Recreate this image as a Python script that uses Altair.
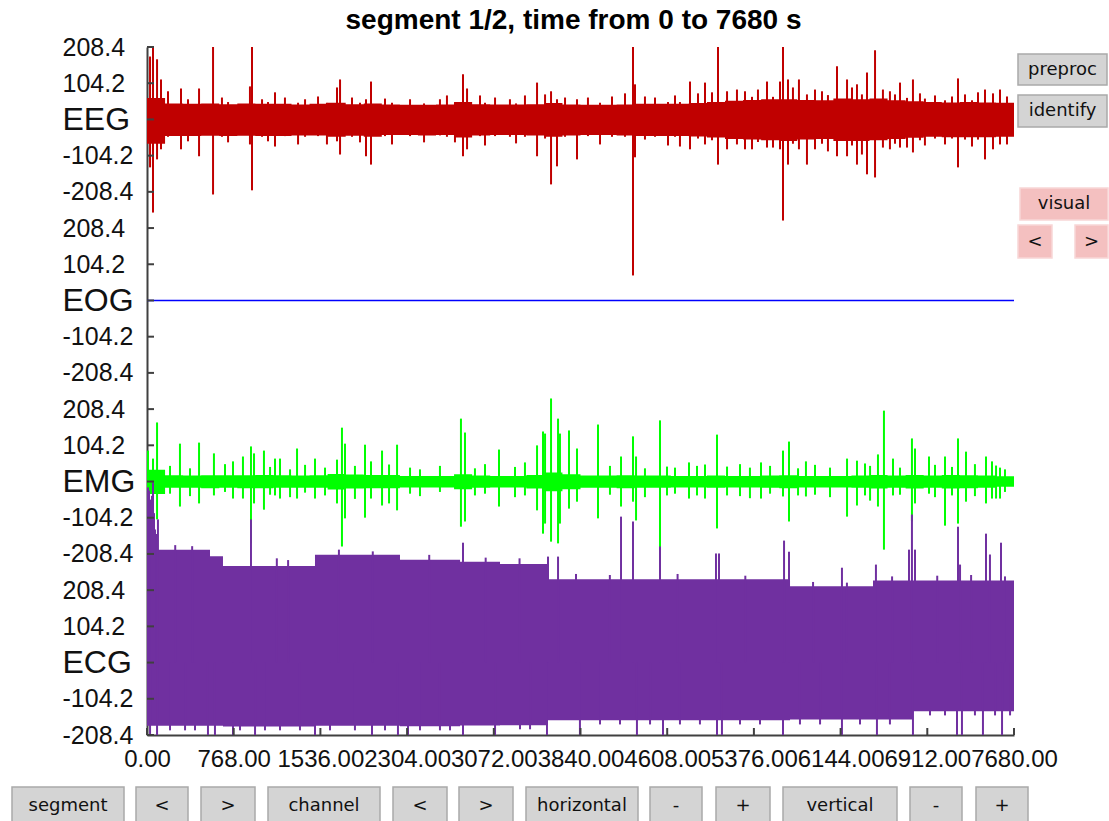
import json
import altair as alt
import pandas as pd

# ---------------------------------------------------------------- layout
PAGE_W, PAGE_H = 1109, 821
PAD = {"left": 147, "top": 47, "right": 95, "bottom": 86}
PLOT_W = PAGE_W - PAD["left"] - PAD["right"]
PLOT_H = PAGE_H - PAD["top"] - PAD["bottom"]

# ---------------------------------------------------------------- time axis
TIME_END = 7680
BIN_SECONDS = 160
time_ticks = [0, 768, 1536, 2304, 3072, 3840, 4608, 5376, 6144, 6912, 7680]

# ---------------------------------------------------------------- channels (bottom to top)
channel_names = ["ECG", "EMG", "EOG", "EEG"]
channel_spacing = 521.0
amp_ticks = [-208.4, -104.2, 0.0, 104.2, 208.4]
channel_colors = {"EEG": "#C00000", "EOG": "#0000FF", "EMG": "#00FF00", "ECG": "#7030A0"}

# EEG: envelope per 160 s bin (uV) and isolated transients (t, top, bottom)
eeg_upper = [62, 46, 45, 46, 44, 46, 45, 45, 43, 45, 48, 44, 46, 43, 42, 42,
             43, 50, 44, 43, 43, 44, 47, 43, 42, 42, 43, 45, 45, 45, 47, 50,
             54, 56, 58, 58, 56, 55, 60, 58, 60, 55, 52, 50, 49, 50, 49, 48]
eeg_lower = [-70, -48, -48, -47, -48, -47, -48, -48, -46, -46, -50, -47, -50, -45, -45, -46,
             -45, -52, -46, -45, -45, -46, -50, -46, -45, -45, -46, -48, -48, -48, -49, -52,
             -56, -58, -60, -62, -58, -56, -62, -62, -60, -56, -53, -50, -51, -51, -51, -50]
eeg_spikes = [
    (27, 181, -138), (53, 230, -268), (89, 173, -115), (124, 115, -86), (301, 89, -86),
    (461, 89, -106), (585, 230, -216), (912, 95, -72), (930, 230, -204), (1134, 78, -78),
    (1683, 92, -63), (1710, 115, -101), (1940, 58, -106), (1984, 109, -130), (2799, 130, -106),
    (2835, 89, -86), (3455, 106, -106), (3579, 81, -187), (3632, 58, -135), (3809, 58, -115),
    (4305, 230, -449), (4323, 101, -109), (4411, 66, -58), (4810, 109, -86), (4943, 106, -72),
    (5058, 230, -130), (5138, 81, -86), (5226, 86, -72), (5492, 109, -81), (5607, 109, -86),
    (5634, 230, -291), (5678, 115, -130), (5775, 115, -86), (5846, 72, -130), (6112, 153, -106),
    (6201, 115, -106), (6289, 101, -130), (6378, 135, -158), (6449, 199, -167), (6519, 86, -81),
    (6670, 106, -81), (6785, 115, -95), (7184, 118, -138), (7423, 86, -115), (7556, 86, -72),
    (186, 81, -50), (363, 58, -63), (664, 63, -50), (718, 50, -66), (1019, 58, -50),
    (1072, 50, -63), (1222, 63, -48), (1338, 48, -72), (1400, 58, -50), (1515, 66, -48),
    (1594, 48, -72), (1816, 63, -50), (1887, 48, -66), (2108, 60, -48), (2170, 48, -72),
    (2330, 58, -48), (2454, 46, -66), (2595, 58, -46), (2657, 69, -50), (2728, 48, -66),
    (2950, 69, -48), (2994, 48, -75), (3083, 63, -48), (3215, 58, -50), (3269, 46, -69),
    (3348, 69, -50), (3526, 72, -55), (3703, 63, -50), (3906, 63, -48), (4013, 48, -72),
    (4119, 66, -50), (4234, 75, -50), (4500, 63, -50), (4615, 50, -75), (4677, 69, -50),
    (4721, 50, -78), (4881, 75, -55), (5005, 78, -60), (5297, 81, -86), (5359, 65, -86),
    (5412, 86, -65), (5545, 65, -81), (5722, 92, -70), (5917, 86, -86), (5979, 81, -70),
    (6032, 70, -92), (6245, 92, -75), (6333, 72, -101), (6581, 81, -86), (6626, 72, -70),
    (6732, 62, -81), (6847, 75, -60), (6891, 60, -75), (6980, 69, -55), (7069, 55, -72),
    (7131, 66, -55), (7246, 72, -58), (7308, 55, -78), (7361, 78, -58), (7494, 75, -86),
    (7618, 66, -72),
]

# EOG: flat trace
eog_times = [0, 7680]
eog_values = [0.0, 0.0]

# EMG: envelope per 160 s bin and bursts (t, top, bottom)
emg_upper = [34, 18, 17, 18, 18, 18, 19, 18, 17, 18, 22, 20, 19, 19, 16, 16,
             16, 21, 17, 16, 16, 19, 26, 21, 17, 17, 18, 17, 17, 16, 16, 17,
             16, 16, 17, 18, 16, 16, 16, 17, 19, 17, 19, 17, 19, 18, 17, 15]
emg_lower = [-36, -18, -18, -19, -18, -19, -19, -18, -18, -18, -23, -20, -19, -19, -17, -17,
             -17, -22, -18, -17, -17, -20, -28, -22, -18, -18, -19, -18, -18, -17, -17, -18,
             -17, -17, -18, -19, -17, -17, -17, -18, -20, -18, -20, -18, -20, -19, -18, -15]
emg_spikes = [
    (9, 89, -78), (53, 66, -69), (89, 170, -109), (292, 109, -72), (461, 112, -63),
    (593, 81, -40), (762, 58, -49), (850, 72, -49), (921, 101, -178), (948, 81, -63),
    (1036, 89, -81), (1134, 66, -40), (1178, 66, -49), (1329, 95, -49), (1488, 66, -49),
    (1683, 63, -63), (1727, 155, -187), (1754, 109, -106), (1931, 106, -104), (1984, 58, -49),
    (2082, 89, -69), (2144, 49, -63), (2215, 106, -83), (2781, 181, -130), (2817, 141, -115),
    (3118, 92, -72), (3455, 104, -83), (3508, 144, -150), (3526, 138, -121), (3579, 239, -173),
    (3641, 181, -178), (3658, 138, -121), (3738, 147, -78), (3809, 95, -58), (3995, 164, -106),
    (4199, 72, -72), (4305, 130, -58), (4332, 72, -112), (4544, 176, -193), (4606, 43, -40),
    (4801, 55, -49), (4943, 49, -49), (5049, 135, -135), (5138, 43, -40), (5439, 55, -49),
    (5634, 89, -43), (5687, 115, -115), (5837, 58, -43), (6201, 66, -101), (6289, 60, -69),
    (6475, 78, -72), (6528, 204, -196), (6608, 66, -40), (6776, 124, -115), (6803, 95, -63),
    (6927, 72, -35), (7069, 72, -127), (7184, 124, -121), (7255, 86, -58), (7432, 72, -63),
    (7485, 58, -49), (7521, 46, -49), (7556, 40, -49),
    (204, 45, -35), (381, 38, -42), (691, 50, -30), (1090, 42, -38), (1267, 35, -45),
    (1400, 48, -32), (1577, 40, -40), (1842, 45, -50), (2330, 40, -35), (2418, 35, -42),
    (2595, 45, -30), (2905, 38, -40), (2994, 50, -35), (3260, 42, -45), (3348, 55, -40),
    (4101, 45, -38), (4411, 38, -45), (4677, 40, -35), (4872, 45, -40), (5253, 50, -42),
    (5341, 40, -48), (5519, 45, -35), (5767, 38, -40), (5917, 48, -38), (6050, 40, -45),
    (6360, 52, -40), (6405, 45, -55), (6670, 40, -38), (6980, 48, -45), (7131, 42, -40),
    (7334, 50, -42), (7600, 35, -30),
]

# ECG: piecewise envelope levels (segment start, top, bottom)
ecg_segment_start = [0, 558, 673, 1488, 2241, 2773, 3127, 3552, 5696, 6431, 6785]
ecg_segment_top = [325, 306, 278, 310, 296, 290, 284, 240, 220, 236, 236]
ecg_segment_bottom = [-182, -182, -184, -182, -183, -181, -180, -166, -164, -164, -140]
# upward R-peak outliers (t, top) and downward excursions (t, bottom)
ecg_up_spikes = [
    (9, 504), (18, 495), (35, 469), (44, 480), (53, 518), (62, 430), (71, 383), (80, 370),
    (97, 412), (921, 412), (2799, 345), (3552, 305), (3641, 305), (4199, 420), (4305, 406),
    (4544, 334), (5040, 314), (5067, 314), (5643, 351), (5687, 319), (6156, 273), (6457, 282),
    (6750, 325), (6776, 426), (6803, 325), (7184, 391), (7202, 282), (7432, 371), (7467, 311),
    (7565, 345),
    (250, 338), (400, 335), (1150, 300), (1250, 295), (1700, 325), (2000, 320), (2500, 310),
    (3000, 302), (3300, 300), (3800, 255), (4100, 252), (4700, 255), (5300, 250), (5900, 232),
    (6200, 230), (6600, 248), (7000, 250), (7300, 252), (7600, 248),
]
ecg_down_spikes = [
    (27, -215), (89, -215), (540, -215), (602, -215), (762, -215), (957, -215), (1488, -215),
    (1993, -215), (2223, -215), (2312, -215), (2799, -215), (3083, -215), (3543, -215),
    (3835, -215), (4340, -215), (4571, -215), (5049, -215), (5093, -215), (5634, -215),
    (6156, -215), (6466, -215), (6785, -215), (7175, -215), (7219, -215), (7405, -215),
    (7574, -215),
    (204, -195), (337, -195), (425, -195), (824, -195), (1045, -195), (1178, -195),
    (1355, -195), (1621, -195), (1842, -195), (2108, -195), (2418, -195), (2595, -195),
    (2684, -195), (3304, -192), (3393, -192), (4013, -178), (4190, -178), (4456, -178),
    (4721, -178), (4898, -178), (5253, -178), (5430, -178), (5784, -178), (5962, -178),
    (6316, -178), (6581, -178), (6936, -152), (7069, -152), (7334, -152), (7512, -152),
    (7645, -152),
]

# ---------------------------------------------------------------- control buttons (page pixels)
bottom_labels = ["segment", "<", ">", "channel", "<", ">", "horizontal", "-", "+", "vertical", "-", "+"]
bottom_left = [12, 136, 201, 268, 393, 459, 526, 650, 716, 783, 910, 976]
bottom_right = [124, 188, 255, 380, 447, 513, 638, 702, 770, 897, 962, 1028]
bottom_top, bottom_bottom = 787, 826
bottom_text_y = 806

side_labels = ["preproc", "identify", "visual", "<", ">"]
side_left = [1018, 1018, 1020, 1018, 1075]
side_right = [1107, 1107, 1108, 1052, 1108]
side_top = [54, 95, 188, 225, 225]
side_bottom = [85, 127, 220, 258, 258]
side_kind = ["plain", "plain", "active", "active", "active"]

button_fill = {"plain": "#D4D4D4", "active": "#F4C0C0"}
button_edge = {"plain": "#A9A9A9", "active": "#F8D6D6"}


# ---------------------------------------------------------------- frames
def offset(name):
    return channel_names.index(name) * channel_spacing


def step_band(name, starts, tops, bottoms):
    """Step-after area points; the last level is repeated at the segment end."""
    off = offset(name)
    t = list(starts) + [TIME_END]
    hi = [v + off for v in tops] + [tops[-1] + off]
    lo = [v + off for v in bottoms] + [bottoms[-1] + off]
    return pd.DataFrame({"t": t, "hi": hi, "lo": lo})


def binned_band(name, upper, lower):
    starts = [i * BIN_SECONDS for i in range(len(upper))]
    return step_band(name, starts, upper, lower)


def spike_frame(name, spikes):
    off = offset(name)
    return pd.DataFrame({
        "t": [s[0] for s in spikes],
        "hi": [s[1] + off for s in spikes],
        "lo": [s[2] + off for s in spikes],
    })


x_scale = alt.Scale(domain=[0, TIME_END], nice=False, zero=False)
y_scale = alt.Scale(domain=[-208.4, offset("EEG") + 208.4], nice=False, zero=False)

# label helpers: offset within a channel and the channel index
rel = f"(datum.value - {channel_spacing}*round(datum.value/{channel_spacing}))"
is_center = f"abs({rel}) < 1"
label_expr = (f"{is_center} ? {json.dumps(channel_names)}[round(datum.value/{channel_spacing})]"
              f" : ({rel} < 0 ? '-' : '') + format(abs({rel}), '.1f')")

y_tick_values = sorted(offset(n) + a for n in channel_names for a in amp_ticks)

x_axis = alt.Axis(values=time_ticks, format=".2f", title=None, grid=False, ticks=False,
                  labelFont="Liberation Sans", labelFontSize=24, labelColor="#111111",
                  labelPadding=12, labelOverlap=False, labelFlush=False,
                  domainColor="#404040", domainWidth=2)
y_axis = alt.Axis(values=y_tick_values, labelExpr=label_expr, title=None, grid=False, ticks=False,
                  labelFont="Liberation Sans",
                  labelFontSize={"condition": {"test": is_center, "value": 32}, "value": 25},
                  labelColor="#111111", labelAlign="left", labelBaseline="middle",
                  labelPadding=85, labelOverlap=False, labelFlush=False,
                  domainColor="#404040", domainWidth=2)

X = dict(scale=x_scale, axis=x_axis)
Y = dict(scale=y_scale, axis=y_axis)


def band_layer(df, color):
    return alt.Chart(df).mark_area(color=color, interpolate="step-after", clip=True).encode(
        x=alt.X("t:Q", **X), y=alt.Y("hi:Q", **Y), y2="lo:Q",
    )


def spike_layer(df, color):
    return alt.Chart(df).mark_rule(color=color, strokeWidth=2, clip=True).encode(
        x=alt.X("t:Q", **X), y=alt.Y("hi:Q", **Y), y2="lo:Q",
    )


eog_df = pd.DataFrame({"t": eog_times, "v": [v + offset("EOG") for v in eog_values]})
eog_layer = alt.Chart(eog_df).mark_line(color=channel_colors["EOG"], strokeWidth=1.5).encode(
    x=alt.X("t:Q", **X), y=alt.Y("v:Q", **Y),
)

ecg_spike_rows = [(t, top, 0) for t, top in ecg_up_spikes] + [(t, 0, b) for t, b in ecg_down_spikes]

layers = [
    eog_layer,
    band_layer(binned_band("EEG", eeg_upper, eeg_lower), channel_colors["EEG"]),
    spike_layer(spike_frame("EEG", eeg_spikes), channel_colors["EEG"]),
    band_layer(binned_band("EMG", emg_upper, emg_lower), channel_colors["EMG"]),
    spike_layer(spike_frame("EMG", emg_spikes), channel_colors["EMG"]),
    band_layer(step_band("ECG", ecg_segment_start, ecg_segment_top, ecg_segment_bottom),
               channel_colors["ECG"]),
    spike_layer(spike_frame("ECG", ecg_spike_rows), channel_colors["ECG"]),
]

# inward tick marks on both axes
y_tick_df = pd.DataFrame({"v": y_tick_values})
layers.append(alt.Chart(y_tick_df).mark_rule(color="#404040", strokeWidth=2).encode(
    y=alt.Y("v:Q", **Y), x=alt.value(0), x2=alt.value(7)))
x_tick_df = pd.DataFrame({"t": time_ticks})
layers.append(alt.Chart(x_tick_df).mark_rule(color="#404040", strokeWidth=2).encode(
    x=alt.X("t:Q", **X), y=alt.value(PLOT_H), y2=alt.value(PLOT_H - 7)))

# control buttons, placed in pixels relative to the plot origin
n_bottom = len(bottom_labels)
btn = pd.DataFrame({
    "label": bottom_labels + side_labels,
    "x0": bottom_left + side_left,
    "x1": bottom_right + side_right,
    "y0": [bottom_top] * n_bottom + side_top,
    "y1": [bottom_bottom] * n_bottom + side_bottom,
    "kind": ["plain"] * n_bottom + side_kind,
})
btn["ty"] = [bottom_text_y] * n_bottom + [(a + b) / 2 for a, b in zip(side_top, side_bottom)]
btn["tx"] = (btn["x0"] + btn["x1"]) / 2
for col in ("x0", "x1", "tx"):
    btn[col] -= PAD["left"]
for col in ("y0", "y1", "ty"):
    btn[col] -= PAD["top"]
btn["fill"] = btn["kind"].map(button_fill)
btn["edge"] = btn["kind"].map(button_edge)

layers.append(alt.Chart(btn).mark_rect(strokeWidth=1.5).encode(
    x=alt.X("x0:Q", scale=None), x2="x1:Q",
    y=alt.Y("y0:Q", scale=None), y2="y1:Q",
    fill=alt.Fill("fill:N", scale=None), stroke=alt.Stroke("edge:N", scale=None)))
layers.append(alt.Chart(btn).mark_text(font="DejaVu Sans", fontSize=18, color="#111111",
                                       baseline="middle", align="center").encode(
    x=alt.X("tx:Q", scale=None), y=alt.Y("ty:Q", scale=None), text="label:N"))

chart = alt.layer(*layers).properties(
    width=PLOT_W, height=PLOT_H,
    autosize=alt.AutoSizeParams(type="none"),
    padding=PAD,
    background="white",
    title=alt.TitleParams(text="segment 1/2, time from 0 to 7680 s", font="Liberation Sans",
                          fontSize=28, fontWeight="bold", color="#000000",
                          anchor="middle", dx=-7, offset=0),
).configure_view(stroke=None)

chart.save("out.html", embed_options={"renderer": "svg", "actions": False})
